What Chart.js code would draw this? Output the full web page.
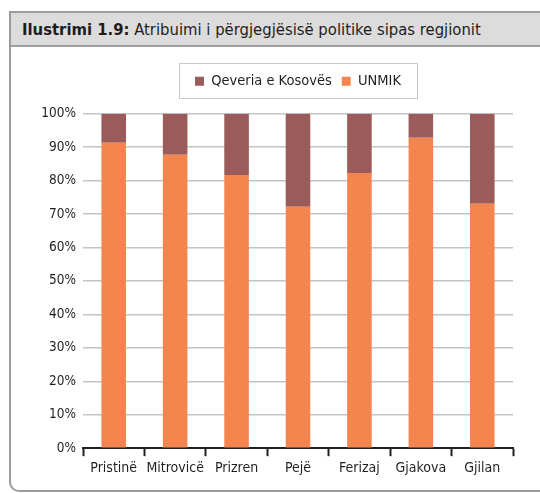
<!DOCTYPE html>
<html>
<head>
<meta charset="utf-8">
<script src="https://cdn.jsdelivr.net/npm/chart.js@4"></script>
<style>
    html, body {
        margin: 0;
        padding: 0;
        background: #fff;
        width: 540px;
        height: 493px;
        overflow: hidden;
        font-family: "DejaVu Sans Condensed", "Liberation Sans", sans-serif;
    }
    .frame {
        position: absolute;
        left: 9px;
        top: 11px;
        width: 560px;
        height: 477px;
        border: 2px solid #9c9c9c;
        border-bottom-left-radius: 10px;
        box-sizing: content-box;
    }
    .title {
        position: absolute;
        left: 11px;
        top: 13px;
        width: 560px;
        height: 34px;
        background: #dcdcdc;
        border-bottom: 2px solid #9c9c9c;
        color: #1f1c1d;
        font-size: 16.5px;
        line-height: 34px;
        padding-left: 11px;
        box-sizing: border-box;
        white-space: nowrap;
    }
    .title b { font-weight: bold; }
    #chartWrap {
        position: absolute;
        left: 0;
        top: 50px;
        width: 540px;
        height: 438px;
    }
</style>
</head>
<body>
<div class="frame"></div>
<div class="title"><b>Ilustrimi 1.9:</b> Atribuimi i përgjegjësisë politike sipas regjionit</div>
<div id="chartWrap"><canvas id="regionChart"></canvas></div>
<script>
const regions = ["Pristinë", "Mitrovicë", "Prizren", "Pejë", "Ferizaj", "Gjakova", "Gjilan"];
const unmikShare = [91.3, 87.7, 81.7, 72.2, 82.3, 92.8, 73.1];
const governmentShare = [8.7, 12.3, 18.3, 27.8, 17.7, 7.2, 26.9];
const yTicks = [0, 10, 20, 30, 40, 50, 60, 70, 80, 90, 100];

const FONT = "'DejaVu Sans Condensed', 'Liberation Sans', sans-serif";
const TEXT = "#231f20";

// draws the thin grey box around the legend items
const legendFrame = {
    id: "legendFrame",
    afterDraw(chart) {
        const boxes = chart.legend?.legendHitBoxes || [];
        if (!boxes.length) return;
        const left = Math.min(...boxes.map((b) => b.left)) - 16;
        const right = Math.max(...boxes.map((b) => b.left + b.width)) + 16;
        const top = Math.min(...boxes.map((b) => b.top)) - 11;
        const bottom = Math.max(...boxes.map((b) => b.top + b.height)) + 9;
        const ctx = chart.ctx;
        ctx.save();
        ctx.strokeStyle = "#c8c8c8";
        ctx.lineWidth = 1;
        ctx.strokeRect(Math.round(left) + 0.5, Math.round(top) + 0.5, Math.round(right - left), Math.round(bottom - top));
        ctx.restore();
    },
};

new Chart(document.getElementById("regionChart"), {
    type: "bar",
    data: {
        labels: regions,
        datasets: [
            {
                label: "UNMIK",
                data: unmikShare,
                backgroundColor: "#f4854e",
            },
            {
                label: "Qeveria e Kosovës",
                data: governmentShare,
                backgroundColor: "#9b5b5b",
            },
        ],
    },
    options: {
        responsive: true,
        maintainAspectRatio: false,
        animation: false,
        layout: { padding: { left: 0, right: 27, top: 14, bottom: 7 } },
        datasets: { bar: { categoryPercentage: 0.8, barPercentage: 0.5 } },
        plugins: {
            tooltip: { enabled: false },
            legend: {
                position: "top",
                fullSize: false,
                reverse: true,
                labels: {
                    boxWidth: 9,
                    boxHeight: 9,
                    padding: 10,
                    color: TEXT,
                    font: { family: FONT, size: 14.5 },
                },
            },
            // empty subtitle used only as a gap between the legend and the plot
            subtitle: {
                display: true,
                text: "",
                position: "top",
                weight: 500,
                font: { size: 1 },
                padding: { top: 7, bottom: 7 },
            },
        },
        scales: {
            x: {
                stacked: true,
                border: { color: "#231f20", width: 2 },
                grid: {
                    display: true,
                    drawOnChartArea: false,
                    drawTicks: true,
                    tickLength: 8,
                    tickWidth: 2,
                    tickColor: "#231f20",
                    offset: true,
                },
                ticks: {
                    color: TEXT,
                    padding: 4,
                    font: { family: FONT, size: 14 },
                    maxRotation: 0,
                    autoSkip: false,
                },
            },
            y: {
                stacked: true,
                min: 0,
                max: 100,
                afterFit: (scale) => { scale.width = 83; },
                afterBuildTicks: (scale) => { scale.ticks = yTicks.map((v) => ({ value: v })); },
                border: { display: false },
                grid: {
                    color: "#c4c4c4",
                    lineWidth: 1.5,
                    drawTicks: false,
                },
                ticks: {
                    color: TEXT,
                    padding: 7,
                    font: { family: FONT, size: 13.5 },
                    callback: (value) => `${value}%`,
                },
            },
        },
    },
    plugins: [legendFrame],
});
</script>
</body>
</html>
